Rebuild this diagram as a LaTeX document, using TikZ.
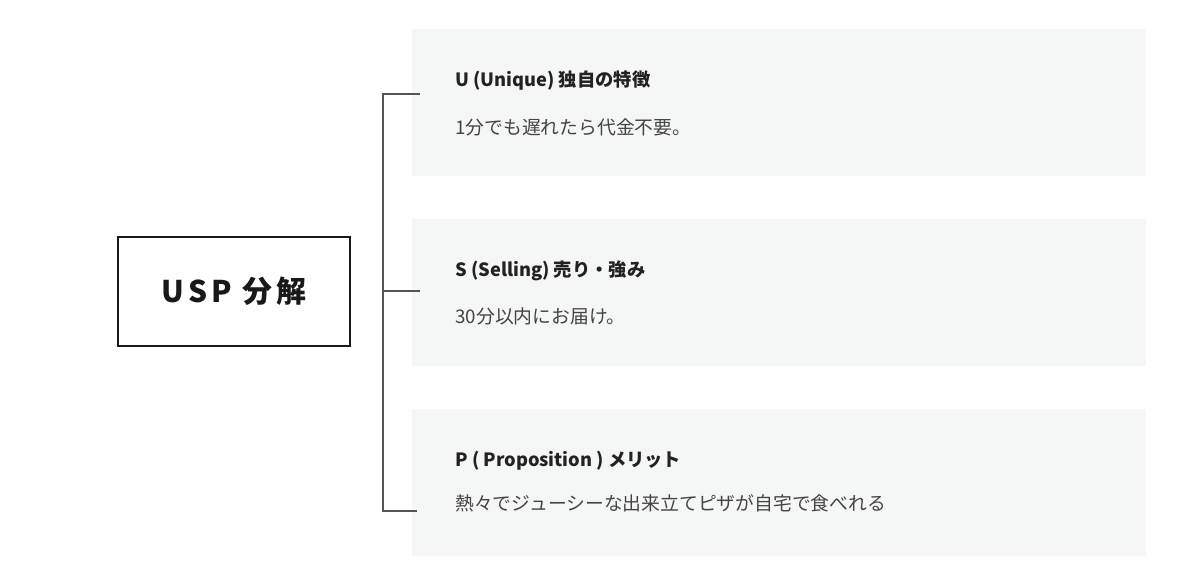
\documentclass[tikz,border=0pt]{standalone}
\usepackage{fontspec}
\setmainfont{Noto Sans CJK JP}
\newfontfamily\jp{Noto Sans CJK JP}
\newfontfamily\jpsp[LetterSpace=13]{Noto Sans CJK JP}
\begin{document}
\begin{tikzpicture}[x=0.02cm,y=-0.02cm,
  panel/.style={fill=panelgray,draw=none,minimum width=734*0.02cm,minimum height=147*0.02cm,inner sep=0pt,anchor=north west},
  ttl/.style={anchor=west,inner sep=0pt,text=titlecol,font=\jp\bfseries\fontsize{10.4pt}{12pt}\selectfont},
  body/.style={anchor=west,inner sep=0pt,text=bodycol,font=\jp\fontsize{10.7pt}{12pt}\selectfont},
  conn/.style={draw=linegray,line width=0.6pt}]
\definecolor{panelgray}{HTML}{F5F6F6}
\definecolor{titlecol}{HTML}{222222}
\definecolor{bodycol}{HTML}{444444}
\definecolor{linegray}{HTML}{555555}
\useasboundingbox[fill=white] (0,0) rectangle (1200,572);
% panels
\node[panel] (p1) at (412,29) {};
\node[panel] (p2) at (412,219) {};
\node[panel] (p3) at (412,409) {};
% main box
\node[draw=black!90,line width=1pt,minimum width=232*0.02cm,minimum height=109*0.02cm,inner sep=0pt] (usp) at (234,291.5)
  {\jpsp\bfseries\fontsize{17pt}{20pt}\selectfont\color{black!90}USP 分解};
% bracket coordinates
\coordinate (j1) at (383,94);
\coordinate (j2) at (383,291);
\coordinate (j3) at (383,511);
\coordinate (e1) at (420,94);
\coordinate (e2) at (420,291);
\coordinate (e3) at (417,511);
\draw[conn] (e1) -- (j1) -- (j3) -- (e3);
\draw[conn] (j2) -- (e2);
% texts
\node[ttl] (t1) at (455,81) {U (Unique) 独自の特徴};
\node[body] (b1) at (455,127) {1分でも遅れたら代金不要。};
\node[ttl] (t2) at (455,271) {S (Selling) 売り・強み};
\node[body] (b2) at (455,316) {30分以内にお届け。};
\node[ttl] (t3) at (455,461) {P ( Proposition ) メリット};
\node[body] (b3) at (455,503) {熱々でジューシーな出来立てピザが自宅で食べれる};
\end{tikzpicture}
\end{document}
